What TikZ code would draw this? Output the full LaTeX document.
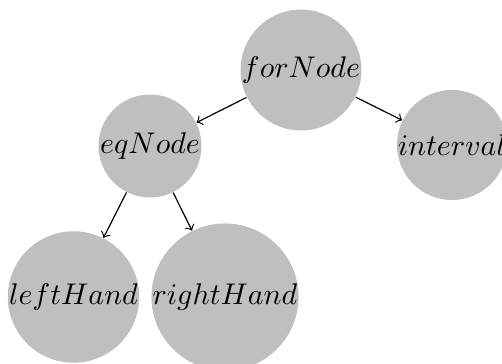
\documentclass[tikz,border=0pt]{standalone}
\begin{document}
\begin{tikzpicture}[x=0.334pt,y=-0.334pt,
  treenode/.style={circle,fill=lightgray,inner sep=0pt},
  edge/.style={->}]
\useasboundingbox (0,0) rectangle (502,364);
\node[treenode] (for) at (301,70) {$forNode$};
\node[treenode] (eq) at (150,146) {$eqNode$};
\node[treenode] (int) at (452,145) {$interval$};
\node[treenode] (lh) at (73.5,297) {$leftHand$};
\node[treenode] (rh) at (225,297) {$rightHand$};
\draw[edge] (for) -- (eq);
\draw[edge] (for) -- (int);
\draw[edge] (eq) -- (lh);
\draw[edge] (eq) -- (rh);
\end{tikzpicture}
\end{document}
